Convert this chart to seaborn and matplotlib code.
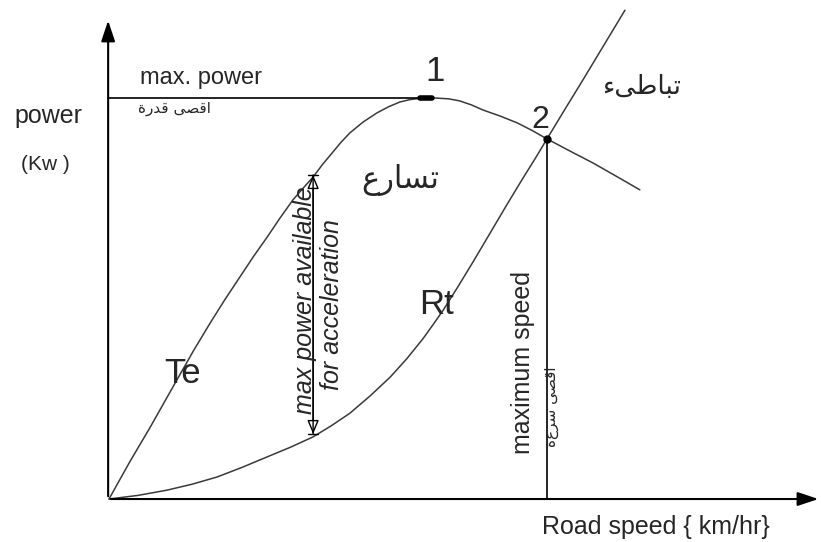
import matplotlib
matplotlib.use("Agg")
from matplotlib import pyplot as plt
import pandas as pd
import seaborn as sb

# Te: tractive power curve (speed, power)
te_speed = [0, 4.7, 9.4, 15.5, 19.3, 23.1, 26.5, 29.9, 33.0, 36.1, 39.0, 42.0, 44.3, 46.6, 48.8, 51.1,
            53.0, 55.0, 58.0, 61.2, 63.8, 66.4, 68.7, 71.0, 74.4, 77.5, 80.0, 82.7, 85.4, 89.3, 93.2,
            96.6, 100, 105.2, 110.5, 115.8, 121.2]
te_power = [0, 9.2, 17.9, 29.7, 37.0, 43.9, 49.8, 55.4, 60.5, 65.3, 70.0, 74.6, 77.5, 80.3, 83.5, 86.5,
            89.0, 91.3, 94.0, 96.3, 97.8, 99.0, 99.6, 99.9, 100, 99.8, 99.3, 98.3, 97.0, 95.5, 93.8,
            91.9, 89.8, 86.8, 83.8, 80.5, 77.1]

# Rt: road resistance power curve
rt_speed = [0, 6.6, 13.2, 19.0, 24.7, 30.4, 36.1, 41.4, 46.6, 50.8, 55.0, 59.6, 64.2, 68.0, 71.7,
            74.0, 76.3, 79.7, 83.1, 87.0, 90.9, 94.5, 97.3, 100, 104.1, 108.2, 113.0, 117.8]
rt_power = [0, 0.9, 2.2, 3.7, 5.5, 7.9, 10.5, 12.9, 15.5, 18.3, 21.4, 25.7, 30.4, 35.0, 40.0,
            43.5, 47.1, 53.0, 59.1, 66.3, 73.5, 80.0, 84.9, 89.8, 97.2, 104.5, 113.2, 121.9]

# key points
max_power_speed = 72.4
max_power = 100
top_speed = 100
top_speed_power = 89.8
accel_speed = 46.6
accel_top = 81.5
accel_bottom = 15.5

te = pd.DataFrame({"speed": te_speed, "power": te_power})
rt = pd.DataFrame({"speed": rt_speed, "power": rt_power})

sb.set_style("white")
plt.rcParams["font.family"] = ["Liberation Sans", "DejaVu Sans"]

fig = plt.figure(figsize=(8.21, 5.42), dpi=100)
ax = fig.add_axes([0, 0, 1, 1])
ax.set_xlim(-24.89, 162.56)
ax.set_ylim(-10.72, 124.44)
ax.axis("off")

sb.lineplot(data=te, x="speed", y="power", ax=ax, color="#3a3a3a", linewidth=1.1)
sb.lineplot(data=rt, x="speed", y="power", ax=ax, color="#3a3a3a", linewidth=1.1)

# axes with arrows
ax.annotate("", xy=(-0.2, 120), xytext=(-0.2, 0),
            arrowprops=dict(arrowstyle="-|>,head_width=0.3,head_length=0.9", color="black", lw=1.5, mutation_scale=14))
ax.annotate("", xy=(162.6, 0), xytext=(-0.2, 0),
            arrowprops=dict(arrowstyle="-|>,head_width=0.3,head_length=0.9", color="black", lw=1.5, mutation_scale=14))

# max power line and top speed line
ax.plot([-0.2, max_power_speed], [max_power, max_power], color="black", lw=1.2)
ax.plot([top_speed, top_speed], [0, top_speed_power], color="black", lw=1.2)

# points 1 and 2
ax.plot([max_power_speed - 1.4, max_power_speed + 1.4], [max_power, max_power], color="black", lw=4, solid_capstyle="round")
ax.plot([top_speed], [top_speed_power], "o", color="black", markersize=5)

# acceleration arrow (hollow heads with a bar at each tip)
ax.annotate("", xy=(accel_speed, accel_top), xytext=(accel_speed, accel_bottom),
            arrowprops=dict(arrowstyle="<|-|>,head_width=0.25,head_length=0.6", color="black", fc="white", lw=1.0, mutation_scale=14))
ax.annotate("", xy=(accel_speed, accel_top), xytext=(accel_speed, accel_bottom),
            arrowprops=dict(arrowstyle="|-|,widthA=0.25,widthB=0.25", color="black", lw=1.0, mutation_scale=14))

# labels
ax.text(-13.9, 95.5, "power", fontsize=18, ha="center", va="center")
ax.text(-14.6, 83.3, "(Kw )", fontsize=15, ha="center", va="center")
ax.text(7.1, 105.0, "max. power", fontsize=17, ha="left", va="center")
ax.text(6.6, 97.5, "\uFE93\uFEAD\uFEAA\uFED7 \uFEF0\uFEBC\uFED7\uFE8D", fontsize=11, ha="left", va="center", family=["DejaVu Sans"])
ax.text(74.4, 106.5, "1", fontsize=25, ha="center", va="center")
ax.text(98.4, 94.5, "2", fontsize=23, ha="center", va="center")
ax.text(66.4, 79.6, "\uFEC9\uFEAD\uFE8E\uFEB4\uFE97", fontsize=22, ha="center", va="center", family=["DejaVu Sans"])
ax.text(121.7, 102.7, "\uFE80\uFEF0\uFEC3\uFE8E\uFE92\uFE97", fontsize=19, ha="center", va="center", family=["DejaVu Sans"])
ax.text(44.7, 49.6, "max power available", fontsize=18, style="italic", rotation=90, ha="center", va="center")
ax.text(50.9, 48.4, "for acceleration", fontsize=18, style="italic", rotation=90, ha="center", va="center")
ax.text(16.9, 31.4, "Te", fontsize=25, ha="center", va="center")
ax.text(74.7, 48.6, "Rt", fontsize=25, ha="center", va="center")
ax.text(94.5, 34.0, "maximum speed", fontsize=18, rotation=90, ha="center", va="center")
ax.text(101.1, 23.1, "\uFE93\uFEC9\uFEAE\uFEB3 \uFEF0\uFEBC\uFED7\uFE8D", fontsize=11, rotation=90, ha="center", va="center", family=["DejaVu Sans"])
ax.text(124.9, -7.0, "Road speed { km/hr}", fontsize=18, ha="center", va="center")

plt.savefig("out.png", dpi=100)
plt.close("all")
